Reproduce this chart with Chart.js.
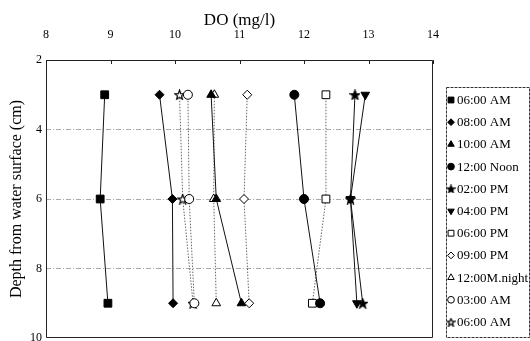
<!DOCTYPE html>
<html>
<head>
<meta charset="utf-8">
<script src="https://cdn.jsdelivr.net/npm/chart.js@4.4.0/dist/chart.umd.min.js"></script>
<style>
  html, body { margin: 0; padding: 0; background: #fff; overflow: hidden; }
  #wrap { width: 530px; height: 341px; }
</style>
</head>
<body>
<div id="wrap"><canvas id="doChart" width="530" height="341"></canvas></div>
<script>
// depth below the water surface (cm)
const depths = [3, 6, 9];
const xTicks = [8, 9, 10, 11, 12, 13, 14];
const yTicks = [2, 4, 6, 8, 10];

const seriesNames = ['06:00 AM', '08:00 AM', '10:00 AM', '12:00 Noon', '02:00 PM', '04:00 PM',
                     '06:00 PM', '09:00 PM', '12:00M.night', '03:00 AM', '06:00 AM'];

// DO (mg/l) at depths 3, 6, 9
const do0600am   = [8.91, 8.84, 8.96];
const do0800am   = [9.76, 9.96, 9.97];
const do1000am   = [10.56, 10.64, 11.03];
const do1200noon = [11.85, 12.00, 12.25];
const do0200pm   = [12.79, 12.72, 12.91];
const do0400pm   = [12.95, 12.72, 12.82];
const do0600pm   = [12.34, 12.34, 12.13];
const do0900pm   = [11.12, 11.07, 11.15];
const do1200mid  = [10.61, 10.60, 10.64];
const do0300am   = [10.20, 10.22, 10.30];
const do0600am2  = [10.07, 10.12, 10.28];

const seriesValues = [do0600am, do0800am, do1000am, do1200noon, do0200pm, do0400pm,
                      do0600pm, do0900pm, do1200mid, do0300am, do0600am2];

/**
 * star marker as a canvas (Chart.js 'star' is only an asterisk)
 */
function makeStar(size, filled) {
    const c = document.createElement('canvas');
    c.width = size;
    c.height = size;
    const g = c.getContext('2d');
    const cx = size / 2, cy = size / 2 + 0.5;
    const ro = size / 2 - 0.5, ri = ro * 0.42;
    g.beginPath();
    for (let k = 0; k < 10; k++) {
        const r = k % 2 === 0 ? ro : ri;
        const a = -Math.PI / 2 + k * Math.PI / 5;
        const px = cx + r * Math.cos(a), py = cy + r * Math.sin(a);
        if (k === 0) g.moveTo(px, py); else g.lineTo(px, py);
    }
    g.closePath();
    g.fillStyle = filled ? '#000' : '#fff';
    g.fill();
    g.lineWidth = 1.2;
    g.strokeStyle = '#000';
    g.stroke();
    return c;
}

const starFilled = makeStar(11, true);
const starOpen = makeStar(11, false);
const starFilledSmall = makeStar(9, true);
const starOpenSmall = makeStar(9, false);

// marker look of each series
const markerStyles = [
    { style: 'rect', radius: 5.5, rotation: 0, filled: true, dashed: false },
    { style: 'rectRot', radius: 4.5, rotation: 0, filled: true, dashed: false },
    { style: 'triangle', radius: 5, rotation: 0, filled: true, dashed: false },
    { style: 'circle', radius: 4.5, rotation: 0, filled: true, dashed: false },
    { style: starFilled, small: starFilledSmall, radius: 5, rotation: 0, filled: true, dashed: false },
    { style: 'triangle', radius: 5, rotation: 180, filled: true, dashed: false },
    { style: 'rect', radius: 5.5, rotation: 0, filled: false, dashed: true },
    { style: 'rectRot', radius: 4.5, rotation: 0, filled: false, dashed: true },
    { style: 'triangle', radius: 5, rotation: 0, filled: false, dashed: true },
    { style: 'circle', radius: 4.5, rotation: 0, filled: false, dashed: true },
    { style: starOpen, small: starOpenSmall, radius: 5, rotation: 0, filled: false, dashed: true }
];

const datasets = seriesNames.map((name, i) => {
    const m = markerStyles[i];
    return {
        label: name,
        data: depths.map((d, j) => ({ x: seriesValues[i][j], y: d })),
        borderColor: m.dashed ? '#666' : '#111',
        borderWidth: 1,
        borderDash: m.dashed ? [1.5, 1.5] : [],
        tension: 0,
        fill: false,
        pointStyle: m.style,
        pointRadius: m.radius,
        pointRotation: m.rotation,
        pointBackgroundColor: m.filled ? '#000' : '#fff',
        pointBorderColor: '#000',
        pointBorderWidth: 1
    };
});

// plot box reaches the bottom edge as in the original figure
const PLOT_BOTTOM = 338;

const areaPlugin = {
    id: 'plotArea',
    afterLayout(chart) {
        const a = chart.chartArea;
        const y = chart.scales.y;
        a.bottom = PLOT_BOTTOM;
        a.height = a.bottom - a.top;
        y.bottom = PLOT_BOTTOM;
        y.height = y.bottom - y.top;
        y.configure();
    }
};

const framePlugin = {
    id: 'frame',
    beforeDatasetsDraw(chart) {
        const { ctx, chartArea: a, scales } = chart;
        ctx.save();
        ctx.strokeStyle = '#222';
        ctx.lineWidth = 1;
        ctx.beginPath();
        ctx.rect(a.left + 0.5, a.top + 0.5, a.right - a.left - 1, a.bottom - a.top - 1);
        // small inward ticks on the top axis
        xTicks.forEach(v => {
            const px = Math.round(scales.x.getPixelForValue(v)) + 0.5;
            ctx.moveTo(px, a.top);
            ctx.lineTo(px, a.top + 4);
        });
        ctx.stroke();
        ctx.restore();
    }
};

const boxLegendPlugin = {
    id: 'boxLegend',
    afterDraw(chart) {
        const ctx = chart.ctx;
        const left = 446.5, top = 87.5, right = 529.5, bottom = 337.5;
        ctx.save();
        ctx.strokeStyle = '#333';
        ctx.lineWidth = 1;
        ctx.setLineDash([3, 1]);
        ctx.strokeRect(left, top, right - left, bottom - top);
        ctx.setLineDash([]);
        ctx.font = '13px "Liberation Serif"';
        ctx.textAlign = 'left';
        ctx.textBaseline = 'middle';
        seriesNames.forEach((name, i) => {
            const m = markerStyles[i];
            const y = 100 + i * 22.2;
            ctx.fillStyle = m.filled ? '#000' : '#fff';
            ctx.strokeStyle = '#000';
            ctx.lineWidth = 1;
            Chart.helpers.drawPoint(ctx, {
                pointStyle: m.small || m.style,
                radius: m.radius * 0.75,
                rotation: m.rotation,
                borderWidth: 1
            }, 451, y);
            ctx.fillStyle = '#000';
            ctx.fillText(name, 457, y + 0.5);
        });
        ctx.restore();
    }
};

Chart.defaults.font.family = '"Liberation Serif", "Times New Roman", serif';
Chart.defaults.color = '#000';

new Chart(document.getElementById('doChart'), {
    type: 'line',
    data: { datasets: datasets },
    options: {
        responsive: false,
        animation: false,
        layout: { padding: { left: 0, top: 0, right: 97, bottom: 0 } },
        plugins: {
            legend: { display: false },
            tooltip: { enabled: false }
        },
        scales: {
            x: {
                type: 'linear',
                position: 'top',
                min: 8,
                max: 14,
                afterFit(scale) {
                    scale.height = 60;
                    scale.paddingLeft = 0;
                    scale.paddingRight = 0;
                },
                afterBuildTicks(scale) { scale.ticks = xTicks.map(v => ({ value: v })); },
                ticks: { padding: 18, font: { size: 12 } },
                grid: { display: false, drawTicks: false },
                border: { display: false },
                title: {
                    display: true,
                    text: 'DO (mg/l)',
                    font: { size: 17 },
                    padding: { top: 10, bottom: 0 }
                }
            },
            y: {
                type: 'linear',
                reverse: true,
                min: 2,
                max: 10,
                afterFit(scale) { scale.width = 46; },
                afterBuildTicks(scale) { scale.ticks = yTicks.map(v => ({ value: v })); },
                ticks: { padding: 4, font: { size: 12 } },
                grid: {
                    drawTicks: false,
                    color: ctx => [4, 6, 8].includes(ctx.tick.value) ? '#aaa' : 'rgba(0,0,0,0)',
                    lineWidth: 1
                },
                border: { display: false, dash: [5, 2, 1, 2] },
                title: {
                    display: true,
                    text: 'Depth from water surface (cm)',
                    font: { size: 16 },
                    padding: { top: 7, bottom: 0 }
                }
            }
        }
    },
    plugins: [areaPlugin, framePlugin, boxLegendPlugin]
});
</script>
</body>
</html>
